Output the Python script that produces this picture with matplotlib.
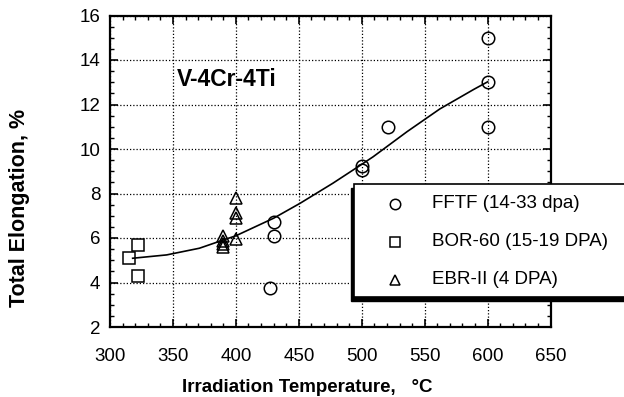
import matplotlib
matplotlib.use("Agg")
import matplotlib.pyplot as plt
from matplotlib.patches import Rectangle
from matplotlib.lines import Line2D
from matplotlib.ticker import MultipleLocator

plt.rcParams['font.family'] = ['Liberation Sans', 'DejaVu Sans']

# ---- data ----
fftf_T = [427, 430, 430, 500, 500, 521, 600, 600, 600]
fftf_v = [3.75, 6.7, 6.1, 9.25, 9.05, 10.97, 15.0, 13.0, 10.97]

bor_T = [315, 322, 322]
bor_v = [5.1, 5.7, 4.27]

ebr_T = [390, 390, 390, 390, 400, 400, 400, 400]
ebr_v = [6.09, 5.85, 5.72, 5.61, 7.81, 7.14, 6.89, 5.97]

curve_T = [318, 345, 371, 390, 400, 430, 451, 477, 497, 509, 536, 562, 589, 600]
curve_v = [5.09, 5.24, 5.54, 5.91, 6.1, 6.89, 7.56, 8.46, 9.2, 9.65, 10.78, 11.8, 12.68, 13.02]

legend_labels = ["FFTF (14-33 dpa)", "BOR-60 (15-19 DPA)", "EBR-II (4 DPA)"]
legend_markers = ["o", "s", "^"]

W, H = 624, 397
fig = plt.figure(figsize=(W / 100, H / 100), dpi=100)

def fx(px):
    return px / W

def fy(py):
    return 1 - py / H

L, R, T, B = 110, 550.6, 15.5, 327
ax = fig.add_axes([fx(L), fy(B), (R - L) / W, (B - T) / H])

ax.set_xlim(300, 650)
ax.set_ylim(2, 16)
ax.xaxis.set_major_locator(MultipleLocator(50))
ax.xaxis.set_minor_locator(MultipleLocator(10))
ax.yaxis.set_major_locator(MultipleLocator(2))
ax.yaxis.set_minor_locator(MultipleLocator(0.5))
ax.tick_params(which='both', direction='in', top=True, right=True, colors='black')
ax.tick_params(which='major', length=6, width=1.2, labelsize=13.5)
ax.tick_params(which='minor', length=3, width=1.0)
ax.tick_params(axis='x', which='major', pad=15)
ax.tick_params(axis='y', which='major', pad=7)
for s in ax.spines.values():
    s.set_linewidth(1.6)
ax.grid(True, which='major', color='black', linestyle=(0, (1, 1.6)), linewidth=0.9)

ms = 9
ax.plot(curve_T, curve_v, color='black', linewidth=1.2, zorder=3)
ax.plot(fftf_T, fftf_v, linestyle='none', marker='o', markersize=ms,
        markerfacecolor='none', markeredgecolor='black', markeredgewidth=1.1, zorder=4)
ax.plot(bor_T, bor_v, linestyle='none', marker='s', markersize=ms - 0.5,
        markerfacecolor='none', markeredgecolor='black', markeredgewidth=1.1, zorder=4)
ax.plot(ebr_T, ebr_v, linestyle='none', marker='^', markersize=ms - 0.5,
        markerfacecolor='none', markeredgecolor='black', markeredgewidth=1.1, zorder=4)

ax.text(fx(227), fy(79), "V-4Cr-4Ti", transform=fig.transFigure, ha='center', va='center',
        fontsize=16.5, fontweight='bold')

# axis labels
fig.text(fx(307), fy(388), "Irradiation Temperature,   \u00b0C", ha='center', va='center',
         fontsize=13.5, fontweight='bold')
fig.text(fx(20), fy(208), "Total Elongation, %", ha='center', va='center', rotation=90,
         fontsize=15.5, fontweight='bold')

# legend box with shadow (extends past the figure edge like the reference)
bx0, by0, bx1, by1 = 354, 184, 660, 297
shadow = Rectangle((fx(bx0 - 3), fy(by1 + 4)), (bx1 - bx0) / W, (by1 - by0) / H,
                   transform=fig.transFigure, facecolor='black', edgecolor='black', zorder=5)
box = Rectangle((fx(bx0), fy(by1)), (bx1 - bx0) / W, (by1 - by0) / H,
                transform=fig.transFigure, facecolor='white', edgecolor='black',
                linewidth=1.2, zorder=6)
fig.patches.extend([shadow, box])

rows = [204, 242, 280]
for lab, mk, ry in zip(legend_labels, legend_markers, rows):
    fig.lines.append(Line2D([fx(395)], [fy(ry)], transform=fig.transFigure, marker=mk,
                            markersize=7.5, markerfacecolor='none', markeredgecolor='black',
                            markeredgewidth=1.1, linestyle='none', zorder=7))
    fig.text(fx(432), fy(ry), lab, ha='left', va='center', fontsize=13.5, zorder=8)

fig.savefig("out.png", dpi=100)
